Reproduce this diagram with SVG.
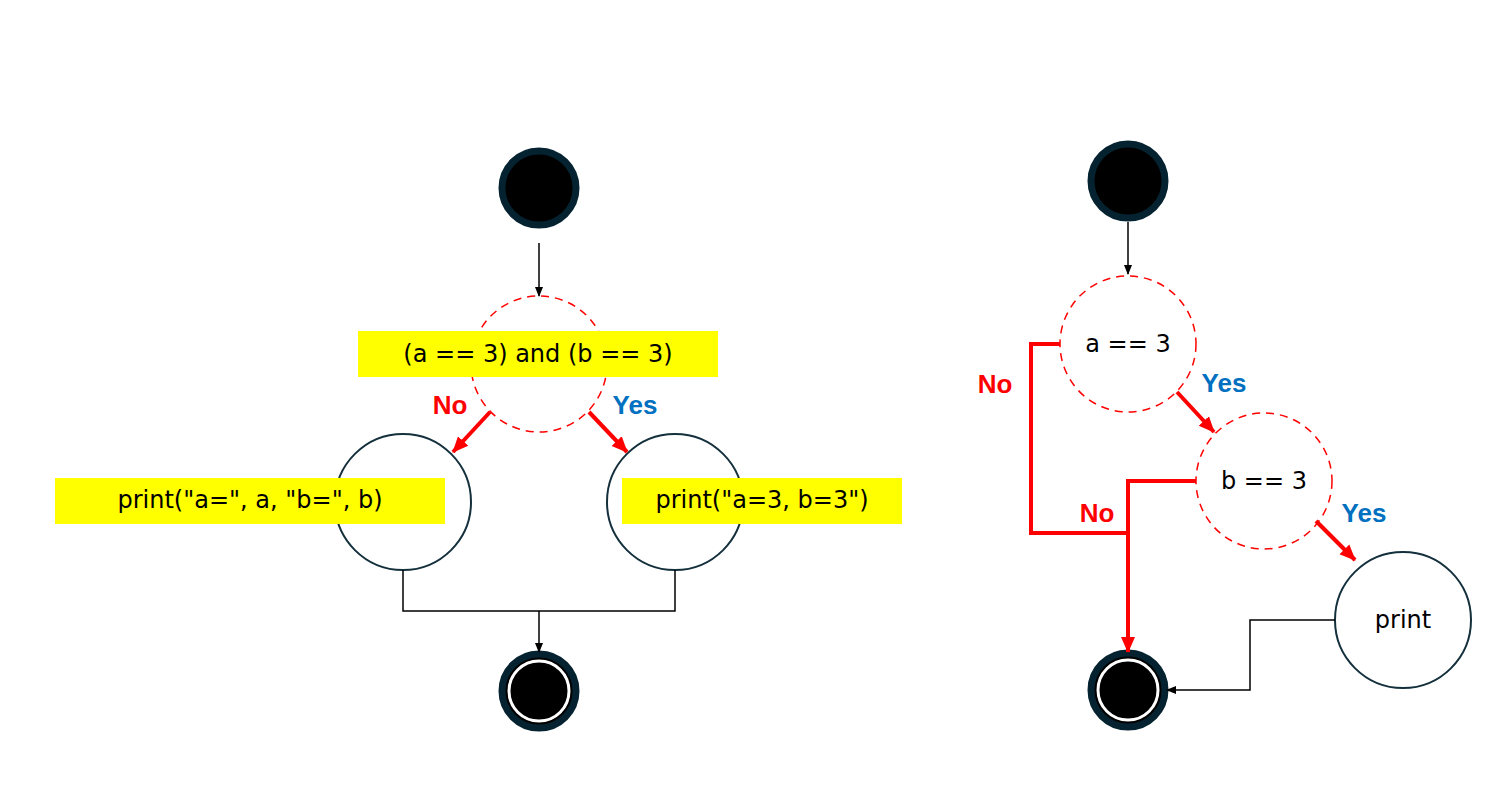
<svg xmlns="http://www.w3.org/2000/svg" width="1509" height="790" viewBox="0 0 1509 790">
<style>
.t{font-family:"DejaVu Sans","Verdana",sans-serif;font-size:24px;fill:#000;text-anchor:middle;dominant-baseline:central}
.lb{font-family:"Liberation Sans",Arial,sans-serif;font-weight:bold;font-size:26px;dominant-baseline:central;text-anchor:middle}
.dec{fill:#fff;stroke:#f00;stroke-width:1.5;stroke-dasharray:8 6}
.act{fill:#fff;stroke:#14303c;stroke-width:2}
.st{fill:#000;stroke:#042230;stroke-width:7}
.k{fill:none;stroke:#000;stroke-width:1.5}
.r{fill:none;stroke:#f00;stroke-width:4}
.hl{fill:#ffff00}
</style>
<defs>
<marker id="ak" markerWidth="10" markerHeight="10" refX="9" refY="5" orient="auto" markerUnits="userSpaceOnUse"><path d="M0,1 L10,5 L0,9 Z" fill="#000"/></marker>
<marker id="ar" markerWidth="16" markerHeight="16" refX="15" refY="8" orient="auto" markerUnits="userSpaceOnUse"><path d="M0,1 L16,8 L0,15 Z" fill="#f00"/></marker>
</defs>
<rect width="1509" height="790" fill="#fff"/>
<g id="start1"><circle class="st" cx="539" cy="188" r="37"/></g>
<g id="dec1"><circle class="dec" cx="539" cy="364" r="68"/><rect class="hl" x="358" y="331" width="360" height="46"/><text class="t" x="538" y="354">(a == 3) and (b == 3)</text></g>
<g id="act1"><circle class="act" cx="403" cy="502" r="68"/><rect class="hl" x="55" y="478" width="390" height="46"/><text class="t" x="250" y="500">print("a=", a, "b=", b)</text></g>
<g id="act2"><circle class="act" cx="675" cy="502" r="68"/><rect class="hl" x="622" y="478" width="280" height="46"/><text class="t" x="762" y="500">print("a=3, b=3")</text></g>
<g id="end1"><circle class="st" cx="539" cy="691" r="37"/><circle cx="539" cy="691" r="30" fill="none" stroke="#fff" stroke-width="3"/></g>
<g id="start2"><circle class="st" cx="1128" cy="181" r="37"/></g>
<g id="decA"><circle class="dec" cx="1128" cy="344" r="68"/><text class="t" x="1128" y="344">a == 3</text></g>
<g id="decB"><circle class="dec" cx="1264" cy="481" r="68"/><text class="t" x="1264" y="481">b == 3</text></g>
<g id="print"><circle class="act" cx="1403" cy="620" r="68"/><text class="t" x="1403" y="620">print</text></g>
<g id="end2"><circle class="st" cx="1128" cy="690" r="37"/><circle cx="1128" cy="690" r="30" fill="none" stroke="#fff" stroke-width="3"/></g>
<g id="connectors">
<line class="k" x1="539" y1="243" x2="539" y2="296" marker-end="url(#ak)"/>
<line class="r" x1="490" y1="412" x2="453" y2="452" marker-end="url(#ar)"/>
<line class="r" x1="589" y1="412" x2="627" y2="452" marker-end="url(#ar)"/>
<polyline class="k" points="403,570 403,611 675,611 675,570"/>
<line class="k" x1="539" y1="611" x2="539" y2="652" marker-end="url(#ak)"/>
<line class="k" x1="1128" y1="222" x2="1128" y2="274" marker-end="url(#ak)"/>
<polyline class="r" points="1060,344 1031,344 1031,533 1128,533"/>
<polyline class="r" points="1196,481 1128,481 1128,652" marker-end="url(#ar)"/>
<line class="r" x1="1177" y1="392" x2="1214" y2="432" marker-end="url(#ar)"/>
<line class="r" x1="1316" y1="521" x2="1355" y2="560" marker-end="url(#ar)"/>
<polyline class="k" points="1335,620 1250,620 1250,690 1167,690" marker-end="url(#ak)"/>
<text class="lb" x="450" y="405" fill="#f00">No</text>
<text class="lb" x="635" y="405" fill="#0070c0">Yes</text>
<text class="lb" x="995" y="384" fill="#f00">No</text>
<text class="lb" x="1097" y="513" fill="#f00">No</text>
<text class="lb" x="1224" y="383" fill="#0070c0">Yes</text>
<text class="lb" x="1364" y="513" fill="#0070c0">Yes</text>
</g>
</svg>
